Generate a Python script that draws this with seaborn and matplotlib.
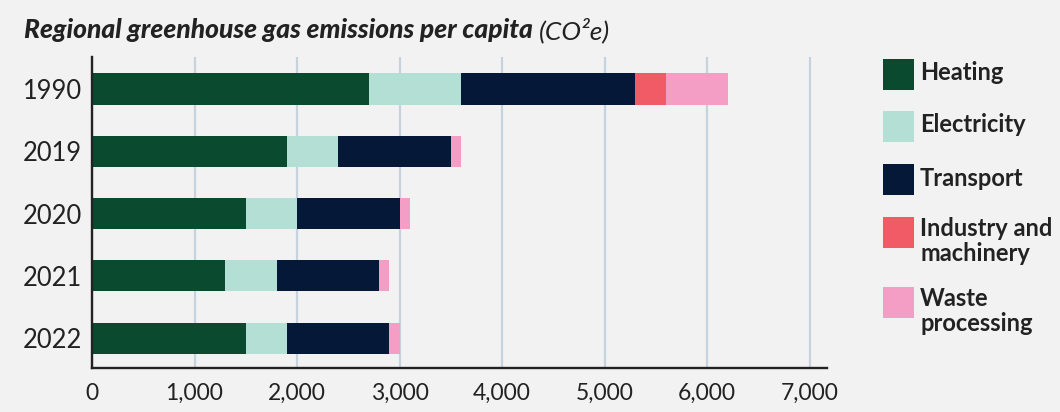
import numpy as np
import pandas as pd
import matplotlib
matplotlib.use("Agg")
import matplotlib.pyplot as plt
from matplotlib.patches import Rectangle
import seaborn as sns

# Emissions per capita by sector (CO2e)
years = ["1990", "2019", "2020", "2021", "2022"]
heating = [2700, 1900, 1500, 1300, 1500]
electricity = [900, 500, 500, 500, 400]
transport = [1700, 1100, 1000, 1000, 1000]
industry = [300, 0, 0, 0, 0]
waste = [600, 100, 100, 100, 100]

sectors = ["Heating", "Electricity", "Transport", "Industry and\nmachinery", "Waste\nprocessing"]
colors = ["#0a4a2f", "#b3dfd5", "#051838", "#f15b65", "#f59ec5"]
x_ticks = [0, 1000, 2000, 3000, 4000, 5000, 6000, 7000]

BG = "#f2f2f2"
INK = "#222222"
GRID = "#c6d3de"

sns.set_style("white")
plt.rcParams["font.family"] = ["Lato", "DejaVu Sans"]

W, H = 1060, 412
fig = plt.figure(figsize=(W / 100, H / 100), dpi=100, facecolor=BG)
ax = fig.add_axes([92 / W, 1 - 368 / H, (827 - 92) / W, (368 - 57) / H])
ax.set_facecolor(BG)

series = [heating, electricity, transport, industry, waste]
cum = np.cumsum(np.array(series, dtype=float), axis=0)
df = pd.DataFrame({"year": years})
# draw running totals from the outermost segment inwards
for i in range(len(series) - 1, -1, -1):
    df["value"] = cum[i]
    sns.barplot(data=df, x="value", y="year", orient="h", color=colors[i],
                saturation=1, width=0.5, linewidth=0, ax=ax, zorder=3)

ax.set_xlim(0, 7170)
ax.set_ylim(4.48, -0.514)
ax.set_xlabel("")
ax.set_ylabel("")
ax.set_xticks(x_ticks)
ax.set_xticklabels([f"{v:,}" for v in x_ticks])
ax.xaxis.grid(True, color=GRID, linewidth=1.6, zorder=0)
ax.yaxis.grid(False)
ax.set_axisbelow(True)

for side in ["top", "right"]:
    ax.spines[side].set_visible(False)
for side in ["left", "bottom"]:
    ax.spines[side].set_color(INK)
    ax.spines[side].set_linewidth(1.7)
    ax.spines[side].set_zorder(4)

ax.tick_params(axis="x", direction="out", length=5.8, width=1.6, color=INK,
               labelsize=16.5, labelcolor=INK, pad=5)
ax.tick_params(axis="y", length=0, labelsize=18.4, labelcolor=INK, pad=7.2)

# Title: heavy italic part followed by the unit in plain italic
t1 = fig.text(24 / W, 1 - 30 / H, "Regional greenhouse gas emissions per capita",
              fontsize=19, fontweight="black", style="italic", color=INK,
              va="center", ha="left")
fig.canvas.draw()
bb = t1.get_window_extent(fig.canvas.get_renderer())
fig.text((bb.x1 + 6) / W, 1 - 30 / H, "(CO²e)", fontsize=19, style="italic",
         color=INK, va="center", ha="left")

# Legend: colour squares with labels
sq = 31
tops = [59, 111, 164, 217, 287]
for label, col, top in zip(sectors, colors, tops):
    fig.add_artist(Rectangle((883 / W, 1 - (top + sq) / H), sq / W, sq / H,
                             transform=fig.transFigure, facecolor=col,
                             edgecolor="none"))
    two_lines = "\n" in label
    base = top + (19 if two_lines else 21.5)
    fig.text(920 / W, 1 - base / H, label.split("\n")[0], fontsize=17,
             fontweight="bold", color=INK, va="baseline", ha="left")
    if two_lines:
        fig.text(920 / W, 1 - (base + 25) / H, label.split("\n")[1], fontsize=17,
                 fontweight="bold", color=INK, va="baseline", ha="left")

fig.savefig("out.png", dpi=100, facecolor=BG)
